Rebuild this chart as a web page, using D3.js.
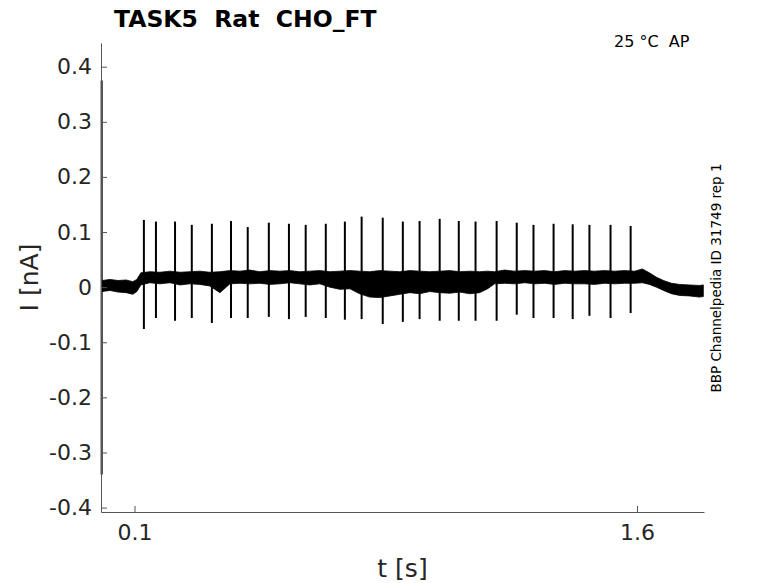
<!DOCTYPE html>
<html>
<head>
<meta charset="utf-8">
<script src="https://cdn.jsdelivr.net/npm/d3@7"></script>
<style>
  body { margin: 0; background: #fff; }
  text { font-family: "DejaVu Sans", sans-serif; white-space: pre; }
</style>
</head>
<body>
<div id="chart"></div>
<script>
const width = 778;
const height = 583;

// tick values / labels
const xTicks = [0.1, 1.6];
const yTicks = [-0.4, -0.3, -0.2, -0.1, 0, 0.1, 0.2, 0.3, 0.4];
const yTickLabels = ["-0.4", "-0.3", "-0.2", "-0.1", "0", "0.1", "0.2", "0.3", "0.4"];

// baseline envelope of the overlaid sweeps (time in s, current in nA)
const envT = [0.003, 0.027, 0.051, 0.075, 0.095, 0.107, 0.119, 0.146, 0.176, 0.206,
  0.236, 0.265, 0.295, 0.325, 0.355, 0.385, 0.415, 0.444, 0.474, 0.504,
  0.534, 0.564, 0.593, 0.623, 0.653, 0.683, 0.713, 0.743, 0.772, 0.802,
  0.832, 0.862, 0.892, 0.922, 0.951, 0.981, 1.011, 1.041, 1.071, 1.101,
  1.130, 1.154, 1.175, 1.205, 1.235, 1.265, 1.294, 1.324, 1.354, 1.384,
  1.414, 1.443, 1.473, 1.503, 1.533, 1.563, 1.593, 1.616, 1.637, 1.658,
  1.679, 1.703, 1.727, 1.757, 1.786, 1.798];
const envUpper = [0.012, 0.014, 0.012, 0.013, 0.010, 0.014, 0.026, 0.028, 0.027, 0.029,
  0.027, 0.028, 0.029, 0.027, 0.028, 0.030, 0.029, 0.031, 0.028, 0.030,
  0.029, 0.030, 0.028, 0.029, 0.030, 0.028, 0.029, 0.030, 0.029, 0.028,
  0.030, 0.029, 0.028, 0.030, 0.029, 0.028, 0.029, 0.030, 0.028, 0.029,
  0.028, 0.029, 0.028, 0.031, 0.029, 0.030, 0.029, 0.030, 0.028, 0.030,
  0.029, 0.030, 0.029, 0.030, 0.029, 0.030, 0.029, 0.033, 0.026, 0.018,
  0.012, 0.007, 0.005, 0.004, 0.003, 0.004];
const envLower = [-0.008, -0.006, -0.009, -0.010, -0.013, -0.008, 0.004, 0.008, 0.006, 0.008,
  0.004, 0.006, 0.005, 0.002, -0.010, 0.006, 0.007, 0.006, 0.007, 0.005,
  0.006, 0.008, 0.006, 0.004, 0.006, 0.000, -0.004, -0.003, -0.012, -0.018,
  -0.019, -0.016, -0.013, -0.010, -0.012, -0.008, -0.010, -0.011, -0.009, -0.012,
  -0.010, -0.003, 0.006, 0.007, 0.006, 0.008, 0.006, 0.007, 0.005, 0.007,
  0.006, 0.006, 0.005, 0.007, 0.006, 0.007, 0.007, 0.008, 0.005, 0.000,
  -0.006, -0.012, -0.015, -0.016, -0.018, -0.017];

// spikes (time, peak, trough)
const spikeT = [0.128, 0.164, 0.221, 0.271, 0.331, 0.388, 0.438, 0.501, 0.561, 0.611,
  0.671, 0.728, 0.778, 0.841, 0.901, 0.951, 1.011, 1.068, 1.118, 1.181,
  1.241, 1.291, 1.351, 1.408, 1.458, 1.521, 1.581];
const spikePeak = [0.122, 0.119, 0.119, 0.113, 0.115, 0.120, 0.109, 0.117, 0.115, 0.113,
  0.115, 0.119, 0.128, 0.126, 0.119, 0.120, 0.124, 0.120, 0.119, 0.120,
  0.117, 0.113, 0.115, 0.114, 0.113, 0.113, 0.111];
const spikeTrough = [-0.076, -0.056, -0.061, -0.056, -0.065, -0.056, -0.056, -0.054, -0.058, -0.054,
  -0.056, -0.059, -0.058, -0.067, -0.063, -0.058, -0.061, -0.061, -0.061, -0.061,
  -0.050, -0.056, -0.056, -0.058, -0.052, -0.056, -0.047];

// capacitive transient at the start of the sweep
const artifactT = [0.002];
const artifactTop = [0.375];
const artifactBottom = [-0.34];

const margin = {top: 43, right: 74, bottom: 71, left: 101};

const svg = d3.select("#chart")
    .append("svg")
    .attr("width", width)
    .attr("height", height)
    .style("background-color", "#fff");

const x = d3.scaleLinear()
    .domain([0, 1.8])
    .range([margin.left, width - margin.right]);

const y = d3.scaleLinear()
    .domain([-0.408, 0.443])
    .range([height - margin.bottom, margin.top]);

// noisy baseline as a filled band
const envData = envT.map((t, i) => ({t: t, hi: envUpper[i], lo: envLower[i]}));
svg.append("path")
    .datum(envData)
    .attr("d", d3.area().x(d => x(d.t)).y0(d => y(d.lo)).y1(d => y(d.hi)))
    .attr("fill", "#000")
    .attr("stroke", "#000")
    .attr("stroke-width", 0.8);

// spikes
svg.selectAll("line.spike")
    .data(spikeT.map((t, i) => ({t: t, hi: spikePeak[i], lo: spikeTrough[i]})))
    .enter().append("line")
    .attr("class", "spike")
    .attr("x1", d => x(d.t)).attr("x2", d => x(d.t))
    .attr("y1", d => y(d.hi)).attr("y2", d => y(d.lo))
    .attr("stroke", "#000")
    .attr("stroke-width", 2);

svg.selectAll("line.artifact")
    .data(artifactT.map((t, i) => ({t: t, hi: artifactTop[i], lo: artifactBottom[i]})))
    .enter().append("line")
    .attr("class", "artifact")
    .attr("x1", d => x(d.t)).attr("x2", d => x(d.t))
    .attr("y1", d => y(d.hi)).attr("y2", d => y(d.lo))
    .attr("stroke", "#000")
    .attr("stroke-width", 2);

// axes (ticks point inward, like MATLAB)
const axisColor = "#555";
const yAxis = svg.append("g")
    .attr("transform", `translate(${margin.left},0)`)
    .call(d3.axisLeft(y).tickValues(yTicks).tickSizeInner(-6).tickSizeOuter(0)
        .tickPadding(9).tickFormat((d, i) => yTickLabels[i]));

const xAxis = svg.append("g")
    .attr("transform", `translate(0,${height - margin.bottom})`)
    .call(d3.axisBottom(x).tickValues(xTicks).tickSizeInner(-6).tickSizeOuter(0)
        .tickPadding(12).tickFormat(d3.format(".1f")));

[xAxis, yAxis].forEach(g => {
    g.select(".domain").attr("stroke", axisColor);
    g.selectAll(".tick line").attr("stroke", axisColor);
    g.selectAll(".tick text")
        .attr("fill", "#262626")
        .style("font-size", "22px")
        .style("font-family", "DejaVu Sans");
});

// title and labels
svg.append("text")
    .attr("x", 114)
    .attr("y", 27)
    .style("font-size", "23.5px")
    .style("font-weight", "bold")
    .attr("fill", "#000")
    .text("TASK5  Rat  CHO_FT");

svg.append("text")
    .attr("x", 614)
    .attr("y", 47)
    .style("font-size", "16px")
    .attr("fill", "#000")
    .text("25 °C  AP");

svg.append("text")
    .attr("x", (margin.left + width - margin.right) / 2)
    .attr("y", 577)
    .attr("text-anchor", "middle")
    .style("font-size", "25px")
    .attr("fill", "#262626")
    .text("t [s]");

svg.append("text")
    .attr("transform", `translate(38,${(margin.top + height - margin.bottom) / 2}) rotate(-90)`)
    .attr("text-anchor", "middle")
    .style("font-size", "25px")
    .attr("fill", "#262626")
    .text("I [nA]");

svg.append("text")
    .attr("transform", "translate(721,278) rotate(-90)")
    .attr("text-anchor", "middle")
    .style("font-size", "13.5px")
    .attr("fill", "#000")
    .text("BBP Channelpedia ID 31749 rep 1");
</script>
</body>
</html>
